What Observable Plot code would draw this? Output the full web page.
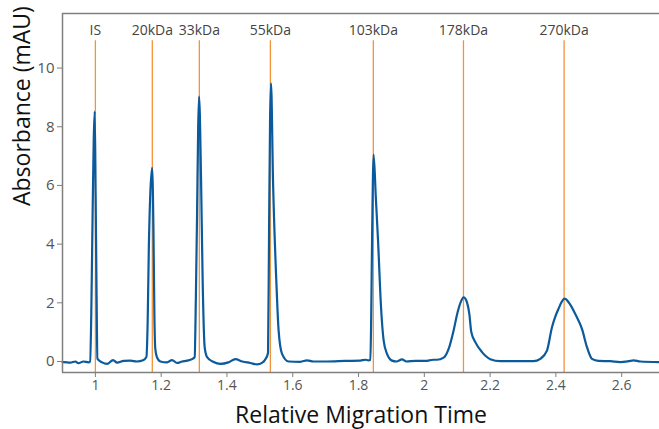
<!DOCTYPE html>
<html>
<head>
<meta charset="utf-8">
<script src="https://cdn.jsdelivr.net/npm/d3@7"></script>
<script src="https://cdn.jsdelivr.net/npm/@observablehq/plot@0.6"></script>
<style>
  html, body { margin: 0; padding: 0; background: #fff; }
  #chart svg { display: block; }
</style>
</head>
<body>
<div id="chart"></div>
<script>
// Electropherogram trace: relative migration time vs absorbance (mAU)
const traceTime = [
  0.9, 0.9036, 0.924, 0.9392, 0.9483, 0.9635, 0.9787, 0.9839,
  0.9875, 0.9915, 0.9950, 0.9979, 1.0008, 1.0035, 1.0061,
  1.0204, 1.0356, 1.0538, 1.066, 1.086, 1.1064, 1.1267, 1.145, 1.155,
  1.159, 1.1625, 1.1665, 1.1725, 1.1765, 1.1795, 1.182, 1.187, 1.1976,
  1.2179, 1.2331, 1.2483, 1.2635, 1.2787, 1.2939, 1.3018,
  1.3055, 1.3091, 1.3125, 1.3152, 1.3213, 1.3261, 1.3322, 1.3395, 1.3596,
  1.38, 1.4043, 1.4255, 1.4468, 1.4711, 1.4915, 1.5076, 1.5182, 1.5249,
  1.528, 1.531, 1.534, 1.540, 1.550, 1.557, 1.5675, 1.5875,
  1.6231, 1.6435, 1.6626, 1.7043, 1.76, 1.8055, 1.8207, 1.8298, 1.836,
  1.8385, 1.8412, 1.8459, 1.8525, 1.8593, 1.8684, 1.8763, 1.8866, 1.9018,
  1.915, 1.9322, 1.9453, 1.9726, 2.003, 2.0274, 2.0386,
  2.0587, 2.0739, 2.0891, 2.1012, 2.1116, 2.1195, 2.1277, 2.1368, 2.1429,
  2.155, 2.1754, 2.2006, 2.231, 2.28, 2.3322,
  2.3526, 2.3729, 2.3881, 2.3982, 2.4082, 2.4185, 2.4264, 2.4386, 2.459,
  2.4793, 2.4945, 2.5097, 2.5298, 2.5653, 2.5957, 2.621, 2.6362, 2.6565, 2.7143
];
const traceAbs = [
  -0.02, -0.02, -0.04, 0.0, -0.06, 0.0, -0.03, 0.0,
  1.6, 5.0, 7.6, 8.52, 5.6, 2.4, 0.1,
  -0.03, -0.08, 0.05, -0.04, 0.02, 0.03, 0.0, 0.04, 0.15,
  1.4, 3.9, 5.6, 6.6, 4.5, 1.5, 0.45, 0.15, 0.0,
  -0.03, 0.05, -0.05, 0.0, 0.03, 0.08, 0.15,
  2.2, 5.0, 8.0, 9.03, 6.17, 2.76, 0.49, 0.15, -0.02,
  -0.08, -0.03, 0.08, 0.0, -0.05, -0.1, -0.04, 0.1, 0.3,
  4.5, 8.2, 9.48, 6.17, 2.76, 1.06, 0.26, 0.0,
  -0.01, 0.04, 0.0, 0.0, 0.02, 0.03, 0.06, 0.04, 0.05,
  1.5, 4.2, 7.05, 5.6, 4.12, 1.85, 0.72, 0.26, 0.03,
  0.0, 0.07, 0.0, 0.02, 0.02, 0.06, 0.06,
  0.13, 0.43, 1.06, 1.68, 2.05, 2.19, 2.08, 1.62, 1.0,
  0.66, 0.32, 0.08, 0.01, 0.01, 0.01,
  0.09, 0.37, 1.17, 1.53, 1.8, 2.05, 2.14, 2.02, 1.62,
  1.11, 0.49, 0.09, 0.02, 0.01, -0.02, 0.01, 0.04, 0.0, -0.02
];

// Marker lines for the size standards
const markerNames = ["IS", "20kDa", "33kDa", "55kDa", "103kDa", "178kDa", "270kDa"];
const markerTimes = [1.0, 1.173, 1.316, 1.532, 1.845, 2.119, 2.425];

// Axis ticks and domains
const xTicks = [1, 1.2, 1.4, 1.6, 1.8, 2, 2.2, 2.4, 2.6];
const yTicks = [0, 2, 4, 6, 8, 10];
const xDomain = [0.9, 2.715];
const yDomain = [-0.375, 11.86];
const markerTop = 10.93;
const markerLabelY = 11.28;

const trace = traceTime.map((t, i) => ({t, a: traceAbs[i]}));
const markers = markerNames.map((name, i) => ({name, t: markerTimes[i]}));

const frameColor = "#7f7f7f";
const font = "'Open Sans', sans-serif";

const chart = Plot.plot({
  width: 659,
  height: 429,
  marginLeft: 62,
  marginRight: 0,
  marginTop: 13,
  marginBottom: 57,
  style: {fontFamily: font, background: "#fff"},
  x: {domain: xDomain},
  y: {domain: yDomain},
  marks: [
    Plot.ruleX(markers, {x: "t", y1: yDomain[0], y2: markerTop, stroke: "#f39237", strokeWidth: 1.3}),
    Plot.text(markers, {x: "t", y: markerLabelY, text: "name", fontSize: 14, fill: "#444"}),
    Plot.line(trace, {x: "t", y: "a", stroke: "#0a5a9c", strokeWidth: 2.2, curve: "monotone-x"}),
    Plot.ruleY([yDomain[0]], {stroke: frameColor, strokeWidth: 1.5}),
    Plot.ruleY([yDomain[1]], {stroke: frameColor, strokeWidth: 1.5}),
    Plot.ruleX([xDomain[0]], {stroke: frameColor, strokeWidth: 1.5}),
    Plot.axisX({ticks: xTicks, tickFormat: d => String(d), tickSize: 5, tickPadding: 3, fontSize: 14, color: "#555", stroke: frameColor, label: null}),
    Plot.axisY({ticks: yTicks, tickFormat: d => String(d), tickSize: 5, tickPadding: 3, fontSize: 15, color: "#555", stroke: frameColor, label: null}),
    Plot.text(["Relative Migration Time"], {frameAnchor: "bottom", dy: 43, fontSize: 23, fill: "#111", lineAnchor: "middle"}),
    Plot.text(["Absorbance (mAU)"], {frameAnchor: "left", dx: -40, dy: 13, rotate: -90, fontSize: 23, fill: "#111", lineAnchor: "middle"})
  ]
});
document.getElementById("chart").appendChild(chart);
</script>
</body>
</html>
